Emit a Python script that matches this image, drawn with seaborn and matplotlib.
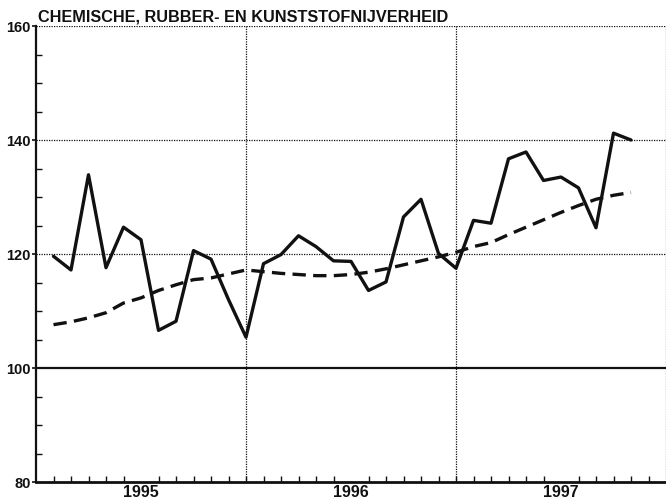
import matplotlib
matplotlib.use("Agg")
import matplotlib.pyplot as plt
import seaborn as sns
import pandas as pd
import numpy as np

title = "CHEMISCHE, RUBBER- EN KUNSTSTOFNIJVERHEID"
years = ["1995", "1996", "1997"]
# monthly index values Jan 1995 .. Oct 1997
production = [119.6, 117.2, 133.9, 117.6, 124.7, 122.5, 106.6, 108.2, 120.6, 119.1, 112.0, 105.4,
              118.3, 119.9, 123.2, 121.3, 118.8, 118.7, 113.6, 115.1, 126.5, 129.6, 120.1, 117.5,
              125.9, 125.4, 136.7, 137.9, 132.9, 133.5, 131.6, 124.6, 141.2, 140.0]
trend = [107.6, 108.1, 108.8, 109.7, 111.4, 112.3, 113.6, 114.6, 115.5, 115.8, 116.5, 117.2,
         116.9, 116.6, 116.4, 116.2, 116.2, 116.4, 116.8, 117.4, 118.1, 118.8, 119.5, 120.3,
         121.3, 122.0, 123.4, 124.7, 126.0, 127.3, 128.5, 129.6, 130.3, 130.8]
yticks = [80, 100, 120, 140, 160]

sns.set_theme(style="white")
plt.rcParams['font.family'] = ['Liberation Sans', 'DejaVu Sans']

month = np.arange(1, len(production) + 1)
df = pd.DataFrame({"month": month, "production": production, "trend": trend})

fig = plt.figure(figsize=(6.66, 5.03), dpi=100)
ax = fig.add_axes([36/666, 1 - 482/503, 630/666, 456/503])

ink = "#111111"
# grid
for yv in [120, 140, 160]:
    ax.axhline(yv, color=ink, lw=0.9, ls=(0, (1, 1)), zorder=1)
ax.axhline(100, color=ink, lw=1.6, zorder=1)
for xv in [12, 24, 36]:
    ax.axvline(xv, color=ink, lw=0.9, ls=(0, (1, 1)), zorder=1)

sns.lineplot(data=df, x="month", y="trend", ax=ax, color=ink, lw=2.4,
             linestyle=(0, (4.0, 2.2)), zorder=3)
sns.lineplot(data=df, x="month", y="production", ax=ax, color=ink, lw=2.4, zorder=4)

ax.set_xlim(0, 36)
ax.set_ylim(80, 160)
ax.set_xlabel("")
ax.set_ylabel("")

for s in ["top", "right"]:
    ax.spines[s].set_visible(False)
ax.spines["left"].set_color(ink)
ax.spines["left"].set_linewidth(1.6)
ax.spines["bottom"].set_color(ink)
ax.spines["bottom"].set_linewidth(2.0)

ax.set_yticks(yticks)
ax.set_yticklabels([str(v) for v in yticks], fontsize=10.5, fontweight="bold", color=ink)
ax.set_yticks(np.arange(80, 161, 5), minor=True)
ax.tick_params(axis="y", which="major", direction="out", length=3, width=1.2, color=ink, pad=1, left=True)
ax.tick_params(axis="y", which="minor", direction="in", length=4, width=1.0, color=ink, left=True)

ax.set_xticks([6, 18, 30])
ax.set_xticklabels(years, fontsize=11.5, fontweight="bold", color=ink)
ax.set_xticks(np.arange(1, 36), minor=True)
ax.tick_params(axis="x", which="major", length=0, pad=2, bottom=True)
ax.tick_params(axis="x", which="minor", direction="in", length=4, width=1.0, color=ink, bottom=True)

fig.text(38/666, 1 - 22/503, title, fontsize=11.7, fontweight="bold", color=ink,
         ha="left", va="baseline")

fig.savefig("out.png", dpi=100, facecolor="white")
